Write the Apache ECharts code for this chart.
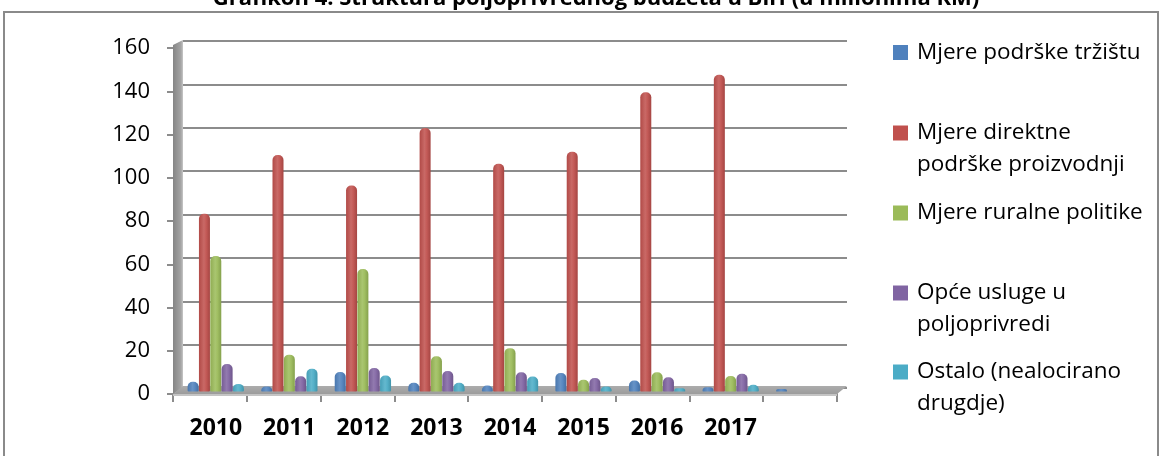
<!DOCTYPE html>
<html><head><meta charset="utf-8">
<script src="https://cdn.jsdelivr.net/npm/echarts@6/dist/echarts.min.js"></script>
<style>html,body{margin:0;padding:0;background:#fff}#c{width:1162px;height:456px}</style>
</head><body><div id="c"></div><script>
// ---- data ----
const categories = ['2010','2011','2012','2013','2014','2015','2016','2017',''];
const seriesNames = ['Mjere podrške tržištu','Mjere direktne podrške proizvodnji','Mjere ruralne politike','Opće usluge u poljoprivredi','Ostalo (nealocirano drugdje)'];
const legendLabels = ['Mjere podrške tržištu','Mjere direktne\npodrške proizvodnji','Mjere ruralne politike','Opće usluge u\npoljoprivredi','Ostalo (nealocirano\ndrugdje)'];
const marketSupport   = [4.5, 2.3, 9.0, 4.0, 2.8, 8.5, 5.1, 2.0, 1.2];
const directSupport   = [82, 109, 95, 121.5, 105, 110.5, 138, 146, null];
const ruralPolicy     = [62.5, 17, 56.5, 16.2, 20, 5.4, 8.9, 7.1, null];
const generalServices = [12.7, 7.0, 10.8, 9.4, 8.9, 6.2, 6.6, 8.2, null];
const otherUnalloc    = [3.5, 10.5, 7.4, 4.0, 6.9, 2.3, 1.5, 3.1, null];
const yMin = 0, yMax = 160, yStep = 20;
const titleText = 'Grafikon 4. Struktura poljoprivrednog budžeta u BiH (u milionima KM)';

const colors = ['#4F81BD','#C0504D','#9BBB59','#8064A2','#4BACC6'];
const allData = [marketSupport, directSupport, ruralPolicy, generalServices, otherUnalloc];

function shade(hex, f) {
  const n = parseInt(hex.slice(1), 16);
  let r = (n >> 16) & 255, g = (n >> 8) & 255, b = n & 255;
  const m = c => f < 0 ? Math.round(c * (1 + f)) : Math.round(c + (255 - c) * f);
  return 'rgb(' + m(r) + ',' + m(g) + ',' + m(b) + ')';
}
function cyl(hex) {
  return new echarts.graphic.LinearGradient(0, 0, 1, 0, [
    {offset: 0, color: shade(hex, -0.08)},
    {offset: 0.45, color: shade(hex, 0.14)},
    {offset: 0.65, color: shade(hex, 0.06)},
    {offset: 1, color: shade(hex, -0.14)}
  ]);
}

const FONT = 'Open Sans';
const chart = echarts.init(document.getElementById('c'), null, {renderer: 'canvas'});

const legendCenters = [52.5, 133, 213, 293, 372];
const legends = seriesNames.map((nm, i) => {
  const two = legendLabels[i].indexOf('\n') >= 0;
  return {
    data: [nm], left: 893, top: legendCenters[i] - (two ? 48 : 16),
    orient: 'vertical', padding: 0, itemWidth: 15, itemHeight: 15, itemGap: 0,
    icon: 'rect', selectedMode: false,
    itemStyle: {color: colors[i]},
    formatter: () => two ? ' \n' + legendLabels[i] : legendLabels[i],
    textStyle: {fontFamily: FONT, fontSize: 22.5, color: '#000', lineHeight: 32,
      padding: [0, 0, 0, 4]}
  };
});

const option = {
  backgroundColor: '#fff',
  animation: false,
  title: {text: titleText, left: 591, textAlign: 'center', top: -17,
    textStyle: {fontFamily: FONT, fontWeight: 'bold', fontSize: 22, color: '#000'}},
  legend: legends,
  grid: [
    {left: 183, width: 664, top: 41, height: 347, containLabel: false},   // back wall
    {left: 173, width: 664, top: 48, height: 346, containLabel: false},   // front axes
    {left: 179, width: 662, top: 44.5, height: 347, containLabel: false}  // bars
  ],
  xAxis: [
    {gridIndex: 0, type: 'category', data: categories, show: false},
    {gridIndex: 1, type: 'category', data: categories,
      axisLine: {show: true, lineStyle: {color: '#8c8c8c', width: 2}},
      axisTick: {show: true, length: 8, lineStyle: {color: '#8c8c8c', width: 2}},
      axisLabel: {show: false}},
    {gridIndex: 2, type: 'category', data: categories,
      axisLine: {show: false}, axisTick: {show: false},
      axisLabel: {show: true, margin: 25, fontFamily: FONT, fontWeight: 'bold', fontSize: 23, color: '#000'}}
  ],
  yAxis: [
    {gridIndex: 0, type: 'value', min: yMin, max: yMax, interval: yStep,
      axisLabel: {show: false}, axisLine: {show: false}, axisTick: {show: false},
      splitLine: {show: true, lineStyle: {color: '#8c8c8c', width: 2}}},
    {gridIndex: 1, type: 'value', min: yMin, max: yMax, interval: yStep,
      axisLine: {show: false},
      axisTick: {show: true, length: 6, lineStyle: {color: '#8c8c8c', width: 2}},
      axisLabel: {show: true, margin: 23, fontFamily: FONT, fontSize: 22, color: '#000'},
      splitLine: {show: false}},
    {gridIndex: 2, type: 'value', min: yMin, max: yMax, interval: yStep, show: false,
      splitLine: {show: false}}
  ],
  graphic: [
    {type: 'rect', shape: {x: 4, y: 12, width: 1154, height: 460}, z: -10,
      style: {fill: 'none', stroke: '#8a8a8a', lineWidth: 2}},
    {type: 'polygon', z: 1, shape: {points: [[173, 45], [183, 40], [183, 388], [173, 394]]},
      style: {fill: new echarts.graphic.LinearGradient(0, 0, 1, 0, [
        {offset: 0, color: '#858585'}, {offset: 0.8, color: '#a5a5a5'}, {offset: 1, color: '#c8c8c8'}])}},
    {type: 'polygon', z: 1, shape: {points: [[173, 394], [183, 386], [847, 386], [837, 394]]},
      style: {fill: new echarts.graphic.LinearGradient(0, 0, 0, 1, [
        {offset: 0, color: '#acacac'}, {offset: 1, color: '#9c9c9c'}])}},
    {type: 'polygon', z: 1, shape: {points: [[173, 394], [837, 394], [837, 396], [173, 396]]},
      style: {fill: '#c4c4c4'}}
  ],
  series: seriesNames.map((nm, i) => ({
    name: nm, type: 'bar', xAxisIndex: 2, yAxisIndex: 2,
    data: allData[i], barWidth: 11, barGap: '3%', z: 3,
    itemStyle: {color: cyl(colors[i]), borderRadius: [5, 5, 1, 1]},
    emphasis: {disabled: true}
  }))
};
chart.setOption(option);
</script></body></html>
